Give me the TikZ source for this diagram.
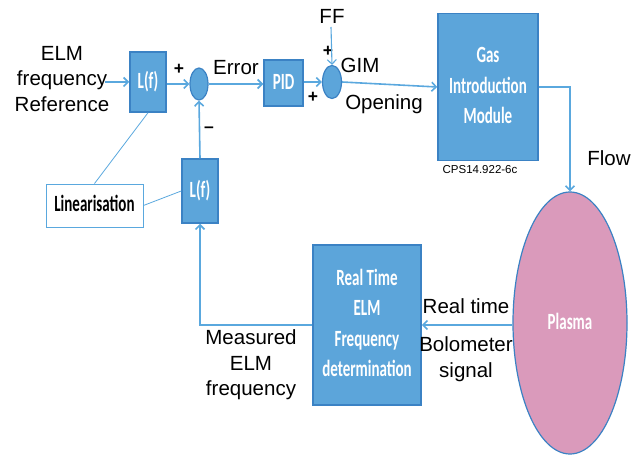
\documentclass[tikz,border=0pt]{standalone}
\usepackage{graphicx}
\usepackage{fontspec}
\setmainfont{Liberation Sans}
\newfontfamily\boxfont{Carlito}
\usetikzlibrary{shapes.geometric,arrows.meta}

\definecolor{boxfill}{HTML}{5CA5DA}
\definecolor{boxedge}{HTML}{3B82C4}
\definecolor{wirecol}{HTML}{5AA8DE}
\definecolor{plasmafill}{HTML}{DA9ABB}

% box captions are set narrow and tall
\newcommand\tallbox[1]{\scalebox{1}[1.55]{\begin{tabular}{@{}c@{}}#1\end{tabular}}}

\tikzset{
  blk/.style={rectangle, draw=boxedge, fill=boxfill, line width=1.5pt, inner sep=0pt,
    text=white, font=\boxfont\bfseries\fontsize{15}{19.5}\selectfont},
  sumnode/.style={ellipse, draw=boxedge, fill=boxfill, line width=1.2pt,
    minimum width=18pt, minimum height=32pt, inner sep=0pt},
  wire/.style={draw=wirecol, line width=1.6pt, -{Straight Barb[length=4.5pt,width=9pt]}},
  thinwire/.style={draw=wirecol, line width=0.8pt},
  lbl/.style={font=\fontsize{20.5}{25.5}\selectfont, align=center, inner sep=0pt},
  sgn/.style={font=\bfseries\fontsize{17.5}{20}\selectfont, inner sep=0pt},
}

\begin{document}
\begin{tikzpicture}[x=1pt,y=-1pt]
\useasboundingbox (0,0) rectangle (635,457);

% blocks
\node[blk, minimum width=36pt, minimum height=60pt] (lf1) at (148,82) {\tallbox{L(f)}};
\node[sumnode] (sum1) at (199,84) {};
\node[blk, minimum width=39pt, minimum height=46pt] (pid) at (283.5,83) {\tallbox{PID}};
\node[sumnode, minimum width=19pt, minimum height=33pt] (gim) at (332,82) {};
\node[blk, minimum width=100pt, minimum height=147pt] (gas) at (488,87)
  {\tallbox{Gas\\Introduction\\Module}};
\node[ellipse, draw=boxedge, fill=plasmafill, line width=1.2pt, inner sep=0pt,
  minimum width=114pt, minimum height=262pt, text=white,
  font=\boxfont\bfseries\fontsize{15}{19.5}\selectfont] (plasma) at (570,323) {\tallbox{Plasma}};
\node[blk, minimum width=108pt, minimum height=160pt] (rt) at (367,325)
  {\tallbox{Real Time\\ELM\\Frequency\\determination}};
\node[blk, minimum width=36pt, minimum height=64pt] (lf2) at (200,191) {\tallbox{L(f)}};
\node[rectangle, draw=wirecol, fill=white, line width=0.9pt, inner sep=0pt,
  minimum width=97pt, minimum height=43pt,
  font=\boxfont\bfseries\fontsize{15}{19.5}\selectfont] (lin) at (94.5,205.5) {\tallbox{Linearisation}};

% labels
\node[lbl] (ref) at (62,79) {ELM\\frequency\\Reference};
\node[sgn] (pl1) at (179,69) {+};
\node[lbl] (err) at (236,68) {Error};
\node[sgn] (mi1) at (209,130) {--};
\node[sgn] (pl2) at (313,97) {+};
\node[sgn] (pl3) at (328,51) {+};
\node[lbl] (ff) at (332,16) {FF};
\node[lbl] (gimt) at (360,65) {GIM};
\node[lbl] (open) at (384,104) {Opening};
\node[lbl] (flow) at (609,158) {Flow};
\node[font=\fontsize{11.5}{13}\selectfont, inner sep=0pt] (cps) at (480,170) {CPS14.922-6c};
\node[lbl] (rtl) at (466,306) {Real time};
\node[lbl] (bol) at (466,359) {Bolometer\\signal};
\node[lbl] (meas) at (251,365) {Measured\\ELM\\frequency};

% connectors
\coordinate (refin) at (105,82);
\coordinate (ffin) at (331,27);
\draw[wire] (refin) -- (lf1.west |- refin);
\draw[wire] (lf1.east |- sum1) -- (sum1.west);
\draw[wire] (sum1.east) -- (pid.west |- sum1);
\draw[wire] (pid.east |- gim) -- (gim.west);
\draw[wire, line width=1.1pt] (ffin) -- (gim.north);
\draw[wire] (gim.east) -- (gas.west);
\draw[wire] (gas.east) -| (plasma.north);
\draw[wire] (plasma.west |- rt) -- (rt.east);
\draw[wire] (rt.west) -| (lf2.south);
\draw[wire] (lf2.north) -- (sum1.south);
\draw[thinwire] (lin.north) -- (lf1.south);
\draw[thinwire] (lin.east) -- (lf2.west);
\end{tikzpicture}
\end{document}
